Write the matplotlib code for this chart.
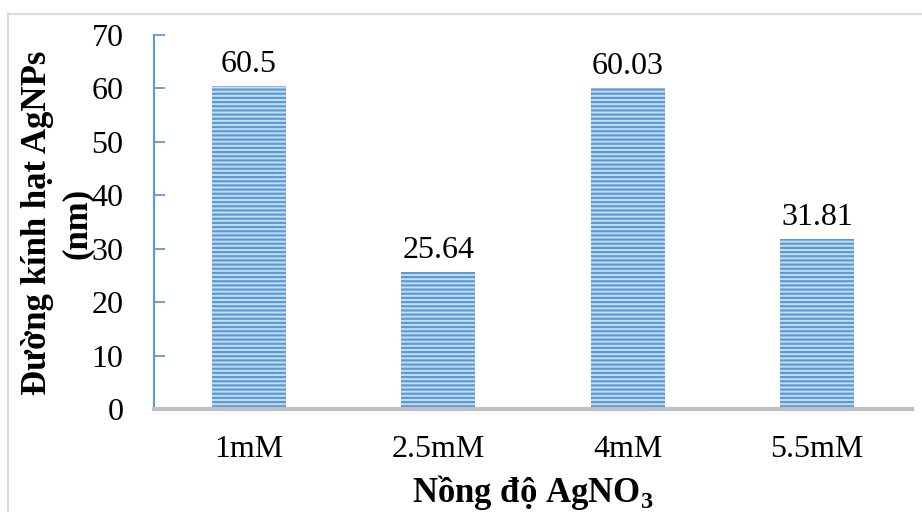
import matplotlib.pyplot as plt
from matplotlib.lines import Line2D

categories = ["1mM", "2.5mM", "4mM", "5.5mM"]
sizes = [60.5, 25.64, 60.03, 31.81]
size_labels = ["60.5", "25.64", "60.03", "31.81"]
yticks = [0, 10, 20, 30, 40, 50, 60, 70]

plt.rcParams['font.family'] = ['Liberation Serif', 'DejaVu Serif']
plt.rcParams['mathtext.fontset'] = 'custom'
plt.rcParams['mathtext.rm'] = 'Liberation Serif'
plt.rcParams['mathtext.bf'] = 'Liberation Serif:bold'
plt.rcParams['hatch.linewidth'] = 1.6

fig = plt.figure(figsize=(9.22, 5.12), dpi=100)
ax = fig.add_axes([154 / 922, 1 - 409 / 512, 758 / 922, 374 / 512])

x = range(len(categories))
ax.bar(x, sizes, width=0.39, color='#c6dcf1', edgecolor='#5b9bd5',
       linewidth=0, hatch='----', zorder=2)

for xi, v, lab in zip(x, sizes, size_labels):
    ax.text(xi, v + 1.3, lab, ha='center', va='bottom', fontsize=23)

ax.set_xlim(-0.5, 3.5)
ax.set_ylim(0, 70)
ax.set_yticks(yticks)
ax.set_xticks(list(x))
ax.set_xticklabels(categories, fontsize=23)
ax.tick_params(axis='x', length=0, pad=19)
ax.tick_params(axis='y', direction='in', length=8, width=1.3,
               color='#5b9bd5', labelsize=23, pad=22)

for s in ['top', 'right']:
    ax.spines[s].set_visible(False)
ax.spines['left'].set_color('#5b9bd5')
ax.spines['left'].set_linewidth(1.5)
ax.spines['bottom'].set_color('#bfbfbf')
ax.spines['bottom'].set_linewidth(3)
ax.spines['bottom'].set_zorder(3)

# axis titles
fig.text(37 / 922, 1 - 223 / 512, "Đường kính hạt AgNPs", rotation=90,
         ha='center', va='center', fontsize=25, fontweight='bold')
fig.text(77 / 922, 1 - 223 / 512, "(nm)", rotation=90,
         ha='center', va='center', fontsize=25, fontweight='bold')
fig.text(533 / 922, 1 - 502 / 512, r"Nồng độ AgNO$_\mathbf{3}$",
         ha='center', va='baseline', fontsize=25, fontweight='bold')

# outer chart border (top and left visible)
fig.add_artist(Line2D([8 / 922, 8 / 922], [0, 1 - 14 / 512],
                      transform=fig.transFigure, color='#d9d9d9', lw=1.5))
fig.add_artist(Line2D([8 / 922, 1], [1 - 14 / 512, 1 - 14 / 512],
                      transform=fig.transFigure, color='#d9d9d9', lw=1.5))

fig.savefig("out.png", dpi=100)
